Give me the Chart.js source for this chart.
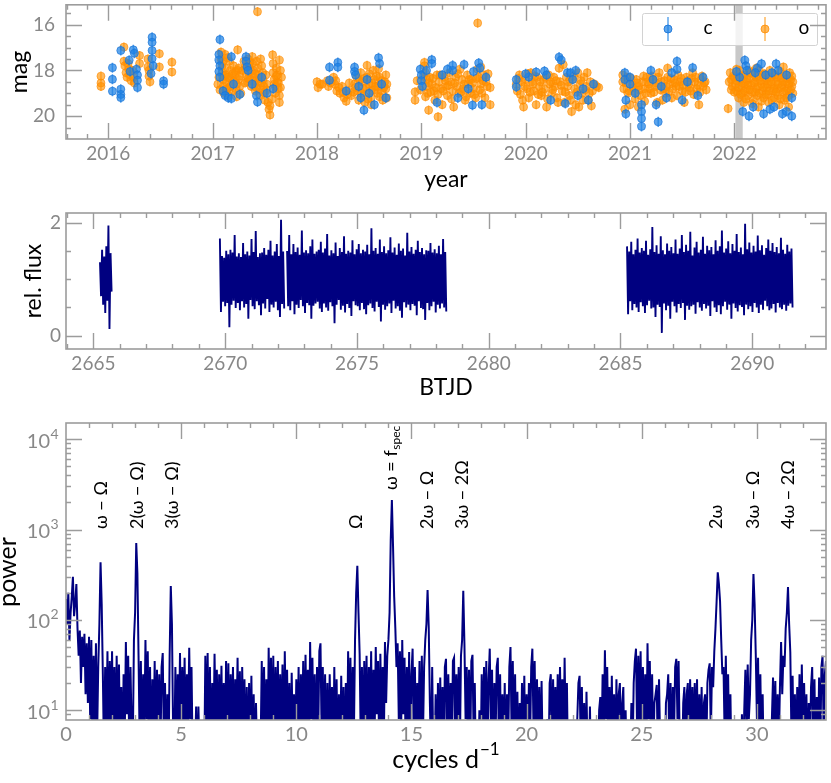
<!DOCTYPE html>
<html>
<head>
<meta charset="utf-8">
<script src="https://cdn.jsdelivr.net/npm/chart.js@4.4.0/dist/chart.umd.min.js"></script>
<style>
  html, body { margin: 0; padding: 0; background: #fff; }
  #wrap { position: relative; width: 831px; height: 783px; }
  canvas { position: absolute; left: 0; }
</style>
</head>
<body>
<div id="wrap">
  <canvas id="lcurve" width="831" height="200" style="top:0"></canvas>
  <canvas id="tess" width="831" height="200" style="top:200px"></canvas>
  <canvas id="pgram" width="831" height="383" style="top:400px"></canvas>
</div>
<script>
// ---------- panel 1: ground based light curve (year, mag) ----------
const cPoints = [
  [2016.04,17.88],[2016.04,18.39],[2016.04,18.91],[2016.12,17.13],[2016.12,18.82],[2016.12,19.05],[2016.12,19.19],
  [2016.2,17.56],[2016.21,18.05],[2016.24,17.1],[2016.25,17.25],[2016.27,17.95],[2016.28,18.2],[2016.28,18.43],
  [2016.28,18.75],[2016.42,16.55],[2016.42,16.77],[2016.42,17.13],[2016.42,17.49],[2016.43,17.8],[2016.41,18.14],
  [2016.53,18.46],[2016.53,18.6],
  [2017.07,16.65],[2017.06,17.3],[2017.06,17.55],[2017.07,17.8],[2017.06,18.05],[2017.07,18.3],[2017.1,18.9],
  [2017.12,19.1],[2017.15,19.2],[2017.18,17.4],[2017.18,19.23],[2017.2,18.6],[2017.26,19.05],[2017.32,17.4],
  [2017.32,17.6],[2017.33,17.85],[2017.34,18.0],[2017.38,18.6],[2017.42,19.1],[2017.43,19.38],[2017.47,18.3],
  [2017.52,19.0],[2017.58,18.8],
  [2018.12,17.86],[2018.12,18.43],[2018.2,17.65],[2018.2,17.86],[2018.28,18.9],[2018.36,17.86],[2018.36,18.05],
  [2018.37,18.2],[2018.4,18.7],[2018.42,19.2],[2018.45,19.74],[2018.48,18.4],[2018.5,19.0],[2018.55,19.5],
  [2018.59,17.45],[2018.6,17.7],[2018.62,18.6],[2018.66,19.2],
  [2018.99,17.95],[2019.0,18.2],[2019.0,18.45],[2019.01,18.7],[2019.1,17.53],[2019.1,17.7],[2019.2,18.2],
  [2019.3,17.78],[2019.3,18.0],[2019.35,19.2],[2019.41,17.74],[2019.45,18.8],[2019.49,19.52],[2019.55,17.68],
  [2019.56,17.9],[2019.58,19.5],[2019.62,18.3],[2019.05,18.0],[2019.25,17.95],[2019.5,18.05],[2019.15,19.4],
  [2019.91,18.72],[2019.91,18.4],[2020.03,18.29],[2020.1,18.07],[2020.18,18.03],[2020.24,19.3],[2020.32,17.42],
  [2020.34,17.55],[2020.4,18.1],[2020.43,18.1],[2020.45,18.4],[2020.5,19.1],[2020.55,18.8],[2020.6,19.3],[2020.65,18.6],
  [2020.0,18.15],[2020.2,18.2],[2020.48,18.0],[2020.38,19.45],
  [2020.95,18.1],[2020.95,18.4],[2020.96,19.3],[2020.96,19.9],[2021.0,18.3],[2021.0,18.6],[2021.05,19.0],
  [2021.11,19.5],[2021.11,19.8],[2021.11,20.1],[2021.11,20.45],[2021.2,18.0],[2021.22,18.4],[2021.27,20.25],
  [2021.3,18.7],[2021.35,19.2],[2021.45,17.6],[2021.45,17.95],[2021.5,19.3],[2021.55,18.5],[2021.6,17.88],[2021.65,19.1],
  [2021.4,18.1],[2021.7,18.3],[2021.25,19.5],
  [2022.05,18.3],[2022.08,19.8],[2022.1,17.56],[2022.11,17.8],[2022.12,18.0],[2022.14,20.0],[2022.18,19.6],
  [2022.22,17.9],[2022.26,17.71],[2022.28,19.9],[2022.3,18.2],[2022.34,19.7],[2022.4,17.71],[2022.42,18.0],
  [2022.46,19.9],[2022.5,19.8],[2022.55,20.0],[2022.55,19.2],[2022.02,18.05],[2022.2,18.1],[2022.36,18.1],
  [2022.5,18.2],[2022.38,19.6]
];
const oPoints = [
  [2015.93,18.25],[2015.93,18.55],[2015.93,18.7],[2016.15,16.98],[2016.15,17.6],[2016.16,17.8],[2016.17,18.1],
  [2016.18,18.3],[2016.19,17.7],[2016.2,17.95],[2016.21,18.2],[2016.22,18.45],[2016.23,18.0],[2016.24,18.3],
  [2016.25,18.55],[2016.3,17.35],[2016.3,17.7],[2016.38,17.5],[2016.38,17.85],[2016.39,18.0],[2016.39,18.25],
  [2016.4,18.5],[2016.49,17.27],[2016.49,17.85],[2016.61,17.64],[2016.61,18.07],
  [2017.05,18.6],[2017.08,17.2],[2017.08,17.5],[2017.09,17.8],[2017.09,18.1],[2017.1,18.4],[2017.1,18.7],
  [2017.11,19.0],[2017.12,17.3],[2017.12,17.9],[2017.13,18.2],[2017.13,18.5],[2017.14,18.8],[2017.15,19.1],
  [2017.16,17.6],[2017.17,18.0],[2017.17,18.35],[2017.18,18.6],[2017.19,18.9],[2017.2,17.8],[2017.21,18.2],
  [2017.21,18.5],[2017.22,18.8],[2017.23,19.15],[2017.24,17.1],[2017.24,18.0],[2017.25,18.4],[2017.26,18.7],
  [2017.27,19.0],
  [2017.3,17.6],[2017.31,17.9],[2017.32,18.2],[2017.33,18.5],[2017.34,17.5],[2017.35,17.8],[2017.35,18.1],
  [2017.36,18.4],[2017.37,18.7],[2017.38,17.4],[2017.38,17.7],[2017.39,18.0],[2017.4,18.3],[2017.4,18.6],
  [2017.41,18.9],[2017.42,17.6],[2017.43,15.43],[2017.43,17.9],[2017.44,18.2],[2017.44,18.5],[2017.45,18.8],
  [2017.46,19.1],[2017.46,17.5],[2017.47,17.8],[2017.48,18.1],[2017.48,18.4],[2017.49,18.7],[2017.5,19.0],
  [2017.5,19.3],[2017.51,18.2],[2017.52,18.6],[2017.53,19.4],[2017.54,19.7],[2017.55,19.95],
  [2017.575,17.32],[2017.58,17.7],[2017.58,18.1],[2017.59,18.4],[2017.6,18.7],[2017.6,19.0],[2017.61,17.9],
  [2017.62,18.2],[2017.62,18.5],[2017.63,18.8],[2017.64,19.1],[2017.64,19.4],[2017.65,18.0],[2017.66,18.3],
  [2017.06,18.3],[2017.07,18.85],[2017.1,17.6],[2017.11,18.25],[2017.13,18.85],[2017.14,17.45],[2017.15,18.3],
  [2017.17,18.7],[2017.19,18.15],[2017.2,18.45],[2017.22,18.05],[2017.23,18.6],[2017.25,17.9],[2017.26,18.25],
  [2017.29,18.0],[2017.31,18.55],[2017.33,17.75],[2017.34,18.35],[2017.36,17.65],[2017.37,18.05],[2017.39,18.45],
  [2017.41,18.15],[2017.42,18.75],[2017.45,18.35],[2017.47,18.55],[2017.49,18.95],[2017.52,18.85],[2017.55,19.55],
  [2017.57,19.25],[2017.59,18.6],[2017.61,18.25],[2017.63,18.55],[2017.65,18.75],[2017.64,17.55],
  [2018.0,18.5],[2018.01,18.75],[2018.05,18.6],[2018.1,18.45],[2018.11,18.7],[2018.16,18.3],[2018.17,18.6],
  [2018.19,18.9],[2018.22,19.0],[2018.24,18.7],[2018.26,19.2],[2018.28,19.35],[2018.3,18.9],[2018.33,19.1],
  [2018.36,18.6],[2018.38,18.3],[2018.39,18.9],[2018.4,19.3],[2018.42,18.1],[2018.43,18.5],[2018.44,18.8],
  [2018.45,19.1],[2018.46,19.4],[2018.48,17.78],[2018.48,18.3],[2018.5,18.6],[2018.51,18.9],[2018.52,19.2],
  [2018.54,18.0],[2018.55,18.4],[2018.56,18.7],[2018.58,19.0],[2018.59,17.93],[2018.6,18.3],[2018.61,18.6],
  [2018.62,18.9],[2018.63,19.3],[2018.65,18.5],[2018.66,18.8],[2018.67,19.2],
  [2018.03,18.6],[2018.13,18.55],[2018.18,18.45],[2018.21,18.75],[2018.25,18.95],[2018.29,19.05],[2018.31,18.55],
  [2018.35,18.95],[2018.37,18.75],[2018.41,18.45],[2018.43,19.0],[2018.45,18.35],[2018.47,18.75],[2018.49,19.25],
  [2018.5,18.15],[2018.53,18.55],[2018.55,18.85],[2018.57,18.25],[2018.58,18.7],[2018.6,19.15],[2018.62,18.45],
  [2018.64,18.75],[2018.66,18.2],[2018.67,18.6],[2018.52,19.5],
  [2018.94,18.94],[2018.94,19.3],[2019.03,17.8],[2019.04,18.1],[2019.05,18.4],[2019.05,18.7],[2019.06,19.0],
  [2019.07,19.74],[2019.08,18.3],[2019.1,18.6],[2019.12,18.9],[2019.13,19.3],[2019.15,18.2],[2019.16,20.03],
  [2019.17,18.5],[2019.19,18.8],[2019.2,19.5],[2019.22,18.3],[2019.24,18.7],[2019.25,19.1],[2019.27,18.1],
  [2019.28,18.5],[2019.3,18.9],[2019.31,19.6],[2019.33,18.3],[2019.34,18.7],[2019.36,19.0],[2019.37,17.95],
  [2019.39,18.4],[2019.4,18.8],[2019.42,19.3],[2019.44,18.2],[2019.45,18.6],[2019.47,19.0],[2019.48,18.4],
  [2019.5,18.8],[2019.52,19.2],[2019.54,15.93],[2019.54,17.95],[2019.55,18.3],[2019.57,18.6],[2019.58,19.0],
  [2019.6,18.2],[2019.62,18.5],[2019.66,18.75],[2019.66,19.5],
  [2018.96,18.45],[2018.99,18.85],[2019.02,18.25],[2019.04,19.15],[2019.07,18.55],[2019.09,18.95],[2019.11,18.35],
  [2019.14,18.75],[2019.16,19.05],[2019.18,18.2],[2019.21,18.9],[2019.23,18.45],[2019.26,18.65],[2019.29,19.25],
  [2019.32,18.55],[2019.35,18.15],[2019.38,18.95],[2019.41,18.6],[2019.43,19.15],[2019.46,18.4],[2019.49,18.55],
  [2019.51,19.05],[2019.53,18.35],[2019.56,18.85],[2019.59,18.45],[2019.61,19.2],[2019.63,18.7],[2019.64,18.15],
  [2019.57,17.85],[2019.03,17.65],
  [2019.91,18.6],[2019.92,18.9],[2019.94,18.2],[2019.96,18.5],[2019.97,19.3],[2019.98,19.6],[2020.0,18.4],
  [2020.01,18.8],[2020.03,19.2],[2020.05,18.1],[2020.06,18.5],[2020.08,18.9],[2020.1,19.5],[2020.11,18.3],
  [2020.13,18.7],[2020.15,19.1],[2020.17,18.4],[2020.18,18.8],[2020.2,19.6],[2020.22,18.2],[2020.23,18.6],
  [2020.25,19.0],[2020.27,18.3],[2020.28,18.7],[2020.3,19.2],[2020.32,17.9],[2020.33,18.5],[2020.35,18.9],
  [2020.36,17.75],[2020.37,19.4],[2020.39,18.3],[2020.4,18.7],[2020.42,19.1],[2020.44,19.8],[2020.45,18.4],
  [2020.47,18.8],[2020.48,19.5],[2020.5,18.1],[2020.52,18.6],[2020.54,19.0],[2020.56,18.3],[2020.58,18.7],
  [2020.6,19.3],[2020.62,18.5],[2020.64,18.9],[2020.68,18.7],
  [2019.93,18.35],[2019.95,19.05],[2019.99,18.7],[2020.02,18.15],[2020.04,18.95],[2020.07,18.6],[2020.09,18.25],
  [2020.12,19.05],[2020.14,18.5],[2020.16,18.95],[2020.19,18.3],[2020.21,19.25],[2020.24,18.5],[2020.26,18.85],
  [2020.29,18.45],[2020.31,19.4],[2020.34,18.65],[2020.38,18.95],[2020.41,18.5],[2020.43,19.3],[2020.46,18.25],
  [2020.49,18.95],[2020.51,19.6],[2020.53,18.45],[2020.55,19.3],[2020.57,18.85],[2020.59,18.1],[2020.61,19.0],
  [2020.63,19.55],[2020.66,18.6],[2020.7,18.75],
  [2020.93,18.5],[2020.94,18.8],[2020.95,19.7],[2020.97,18.3],[2020.98,19.0],[2021.0,19.5],[2021.02,18.6],
  [2021.04,18.9],[2021.06,18.4],[2021.08,18.7],[2021.1,19.1],[2021.12,18.5],[2021.14,18.8],[2021.16,18.3],
  [2021.18,18.6],[2021.2,19.0],[2021.22,18.4],[2021.24,18.7],[2021.26,19.4],[2021.28,18.1],[2021.3,18.5],
  [2021.32,18.8],[2021.34,19.0],[2021.36,18.3],[2021.38,18.6],[2021.4,19.2],[2021.42,18.4],[2021.44,18.7],
  [2021.46,18.2],[2021.48,18.5],[2021.5,18.9],[2021.52,19.4],[2021.54,18.3],[2021.56,18.6],[2021.58,18.9],
  [2021.6,18.1],[2021.62,18.5],[2021.64,18.8],[2021.66,19.5],[2021.68,18.4],[2021.7,18.7],[2021.72,18.5],
  [2020.93,18.2],[2020.96,18.55],[2020.99,18.9],[2021.01,18.35],[2021.03,18.75],[2021.05,19.25],[2021.07,18.55],
  [2021.09,18.85],[2021.13,18.25],[2021.15,19.0],[2021.17,18.5],[2021.19,18.8],[2021.21,18.25],[2021.23,18.95],
  [2021.25,18.55],[2021.27,18.3],[2021.29,18.85],[2021.31,19.3],[2021.33,18.45],[2021.35,18.7],[2021.37,18.95],
  [2021.39,18.35],[2021.41,18.8],[2021.43,18.55],[2021.45,19.1],[2021.47,18.7],[2021.49,18.35],[2021.51,18.65],
  [2021.53,18.95],[2021.55,18.45],[2021.57,18.75],[2021.59,18.35],[2021.61,19.05],[2021.63,18.3],[2021.65,18.65],
  [2021.67,18.95],[2021.69,18.25],[2021.71,18.55],[2021.73,18.85],[2021.08,19.6],[2021.14,19.35],[2021.36,17.9],
  [2021.94,19.67],[2021.96,18.1],[2021.97,18.4],[2021.98,18.7],[2022.0,18.3],[2022.01,18.6],[2022.02,18.9],
  [2022.04,19.2],[2022.05,18.0],[2022.06,18.4],[2022.07,18.7],[2022.08,19.0],[2022.09,19.4],[2022.1,18.2],
  [2022.11,18.5],[2022.12,18.8],[2022.13,19.1],[2022.14,18.0],[2022.15,18.35],[2022.16,18.65],[2022.17,18.95],
  [2022.18,19.3],[2022.19,18.2],[2022.2,18.5],[2022.21,18.8],[2022.22,19.1],[2022.23,19.6],[2022.24,18.0],
  [2022.25,18.3],[2022.26,18.6],[2022.27,18.9],[2022.28,19.2],[2022.29,18.15],[2022.3,18.45],[2022.31,18.75],
  [2022.32,19.05],[2022.33,19.4],[2022.34,18.0],[2022.35,18.3],[2022.36,18.6],[2022.37,18.9],[2022.38,19.2],
  [2022.39,18.2],[2022.4,18.5],[2022.41,18.8],[2022.42,19.1],[2022.43,19.5],[2022.44,18.05],[2022.45,18.35],
  [2022.46,18.65],[2022.47,18.95],[2022.48,19.3],[2022.49,18.2],[2022.5,18.5],[2022.51,18.8],[2022.52,19.1],
  [2022.53,18.1],[2022.54,18.4],[2022.55,18.7],[2022.56,19.0],
  [2021.95,18.5],[2021.97,18.85],[2021.99,18.25],[2022.0,18.95],[2022.02,18.45],[2022.03,18.15],[2022.04,18.75],
  [2022.06,19.05],[2022.07,18.25],[2022.08,18.55],[2022.1,18.9],[2022.11,19.25],[2022.12,18.4],[2022.13,18.65],
  [2022.15,18.85],[2022.16,18.1],[2022.17,19.45],[2022.19,18.55],[2022.2,18.95],[2022.21,18.3],[2022.23,18.7],
  [2022.24,19.0],[2022.25,18.45],[2022.26,19.35],[2022.27,18.2],[2022.28,18.75],[2022.3,19.05],[2022.31,18.35],
  [2022.32,18.6],[2022.33,18.9],[2022.35,18.5],[2022.36,19.3],[2022.37,18.15],[2022.38,18.8],[2022.4,18.95],
  [2022.41,18.3],[2022.42,18.6],[2022.44,19.25],[2022.45,18.75],[2022.46,18.25],[2022.47,18.5],[2022.49,18.9],
  [2022.5,19.2],[2022.51,18.35],[2022.52,18.6],[2022.54,18.85],[2022.55,18.25],[2022.56,18.5],[2022.02,17.95],
  [2022.21,17.9],[2022.47,17.85],[2022.52,19.6]
];
const cErr = 0.22;
const oErr = 0.2;
const bandYears = [2022.01, 2022.08];
const yearTicks = [2016, 2017, 2018, 2019, 2020, 2021, 2022];
const magTicks = [16, 18, 20];

// ---------- panel 2: TESS light curve (BTJD, relative flux) ----------
const segStart = [2665.25, 2669.8, 2672.35, 2685.25];
const cadence = 0.04;
const flux1 = [1.30,0.70,1.52,0.55,1.40,0.40,1.58,0.62,1.95,0.12,1.46,0.78];
const flux2 = [
  1.72,0.42,1.41,0.60,1.38,0.52,1.50,0.58,1.44,0.15,
  1.52,0.55,1.47,0.62,1.78,0.49,1.40,0.58,1.46,0.45,
  1.39,0.61,1.64,0.50,1.44,0.56,1.49,0.30,1.42,0.63,
  1.71,0.52,1.48,0.47,1.85,0.61,1.39,0.54,1.46,0.36,
  1.47,0.57,1.55,0.48,1.43,0.65,1.52,0.42,1.68,0.55,
  1.42,0.50,1.49,0.60,1.62,0.45,1.41,0.33,2.05,0.56,
  1.49,0.48
];
const flux3 = [
  1.50,0.52,1.78,0.45,1.44,0.61,1.62,0.38,1.48,0.55,
  1.56,0.49,1.43,0.63,1.86,0.52,1.47,0.40,1.51,0.58,
  1.46,0.54,1.58,0.30,1.70,0.53,1.45,0.57,1.49,0.60,
  1.52,0.48,1.66,0.42,1.47,0.57,1.54,0.50,1.80,0.44,
  1.42,0.59,1.51,0.52,1.46,0.22,1.65,0.55,1.41,0.63,
  1.55,0.46,1.48,0.53,1.76,0.41,1.45,0.56,1.50,0.49,
  1.47,0.35,1.69,0.61,1.44,0.54,1.53,0.52,1.62,0.45,
  1.46,0.58,1.52,0.47,1.49,0.38,1.61,0.54,1.44,0.57,
  1.90,0.49,1.50,0.43,1.55,0.60,1.45,0.51,1.70,0.25,
  1.48,0.55,1.58,0.46,1.46,0.52,1.51,0.57,1.74,0.40,
  1.47,0.62,1.56,0.48,1.43,0.52,1.63,0.44,1.50,0.32,
  1.54,0.59,1.42,0.50,1.82,0.55,1.49,0.45,1.57,0.56,
  1.45,0.53,1.52,0.36,1.68,0.61,1.48,0.49,1.55,0.47,
  1.44,0.28,1.51,0.58,1.50,0.45,1.64,0.52,1.47,0.60,
  1.53,0.41,1.46,0.55,1.59,0.48,1.44,0.57,1.71,0.50,
  1.48,0.43
];
const flux4 = [
  1.58,0.38,1.49,0.61,1.66,0.45,1.44,0.56,1.52,0.50,
  1.72,0.42,1.47,0.59,1.55,0.52,1.50,0.40,1.68,0.54,
  1.43,0.62,1.53,0.48,1.92,0.50,1.48,0.33,1.60,0.55,
  1.45,0.51,1.76,0.05,1.51,0.57,1.44,0.45,1.63,0.53,
  1.50,0.30,1.57,0.60,1.46,0.52,1.70,0.41,1.45,0.56,
  1.54,0.49,1.78,0.58,1.48,0.28,1.61,0.53,1.50,0.46,
  1.84,0.52,1.42,0.55,1.56,0.39,1.66,0.59,1.47,0.50,
  1.52,0.44,1.75,0.56,1.45,0.48,1.59,0.53,1.51,0.35,
  1.57,0.61,1.44,0.50,1.69,0.42,1.50,0.54,1.58,0.38,
  1.86,0.52,1.47,0.60,1.54,0.46,1.67,0.55,1.46,0.30,
  1.62,0.57,1.50,0.49,1.80,0.43,1.48,0.54,1.56,0.51,
  1.44,0.36,1.98,0.55,1.53,0.47,1.65,0.52,1.47,0.42,
  1.59,0.58,1.49,0.50,1.77,0.40,1.51,0.55,1.60,0.46,
  1.43,0.62,1.55,0.52,1.70,0.45,1.50,0.48,1.64,0.56,
  1.48,0.41,1.57,0.58,1.46,0.50,1.73,0.47,1.52,0.55,
  1.45,0.44,1.61,0.53,1.49,0.57,1.54,0.50
];
const btjdTicks = [2665, 2670, 2675, 2680, 2685, 2690];
const fluxTicks = [0, 2];

// ---------- panel 3: periodogram (cycles/d, power), one row per cycle/d ----------
const freqStep = 0.05;
const power = [
  170,90,200,60,120,180,300,110,150,250,80,40,76,20,65,30,70,15,55,12,
  65,8,60,4,40,6,55,5,30,90,434,150,25,3,30,5,45,4,35,6,
  45,4,30,3,40,5,32,3,18,2,25,5,57,9,40,3,30,6,4,60,
  120,710,330,40,4,35,3,25,5,60,8,45,3,30,2,22,4,35,3,28,
  5,25,3,30,43,4,20,2,15,2,40,237,90,6,3,30,4,25,5,43,
  4,30,6,38,3,25,5,49,8,30,3,2,3,11,2,11,3,2,2,2,
  2,40,5,43,3,30,2,20,4,42,6,28,3,25,5,31,3,20,2,35,
  4,33,3,25,5,30,3,22,6,38,4,27,2,30,5,22,2,18,2,20,
  3,24,2,15,2,12,3,2,3,4,35,5,30,3,22,2,49,6,38,4,
  40,3,30,5,35,3,25,4,32,2,45,6,28,3,20,2,26,4,15,3,
  22,4,30,2,25,5,35,3,41,6,28,3,57,8,38,4,25,2,30,5,
  45,55,5,30,3,25,2,20,2,25,4,18,2,30,3,22,2,15,2,24,
  3,18,2,20,3,45,6,38,4,30,5,60,200,398,120,42,4,30,3,35,
  5,40,3,30,6,45,3,28,5,50,9,35,3,42,6,30,4,57,12,40,
  60,120,767,2130,660,180,81,30,55,8,45,5,60,9,38,3,30,5,44,3,
  25,48,4,30,3,20,5,35,2,40,5,30,60,90,214,84,12,3,30,3,
  2,15,2,20,3,23,4,18,2,30,37,3,25,5,20,3,35,38,4,25,
  5,30,3,40,60,210,55,8,30,4,28,3,35,41,5,20,2,3,2,10,
  2,25,3,30,5,35,3,22,48,6,28,2,20,4,30,38,3,25,2,15,
  3,20,2,15,4,30,50,5,35,3,25,2,16,2,12,3,20,4,24,2,
  15,3,20,4,30,48,6,35,3,22,4,18,2,21,3,2,3,2,8,2,
  20,25,3,22,5,18,3,25,4,30,6,22,3,38,5,20,2,2,2,3,
  2,2,3,2,8,20,24,4,18,2,12,2,16,3,2,11,2,2,2,2,
  2,2,2,10,14,3,25,5,46,8,30,4,18,3,24,3,15,2,22,4,
  15,20,3,12,18,2,10,2,3,2,3,12,3,20,35,48,5,40,6,45,
  4,30,5,25,3,55,8,35,4,25,3,12,15,19,3,22,4,3,2,4,
  2,12,15,25,3,20,3,18,5,30,37,8,35,4,2,2,12,18,3,15,
  20,3,22,5,18,3,20,4,22,2,15,3,18,2,12,15,3,20,28,33,
  5,30,18,45,80,160,337,250,160,60,25,30,5,40,6,25,3,15,2,3,
  2,2,3,2,2,2,3,9,2,10,28,5,32,8,15,60,100,322,150,42,
  8,38,4,25,3,15,2,2,2,2,2,3,2,8,23,5,21,3,15,4,
  18,57,15,40,30,80,120,231,90,44,5,24,3,15,2,18,4,25,3,32,
  4,20,3,15,2,12,3,18,30,4,22,2,14,3,23,3,30,40,5,25,
  35
];
const freqTicks = [0, 5, 10, 15, 20, 25, 30];
const powerTicks = [10, 100, 1000, 10000];
const peakFreqs = [1.52, 3.07, 4.6, 12.6, 14.1, 15.68, 17.2, 28.25, 29.83, 31.35];
const peakLabels = ['ω − Ω', '2(ω − Ω)', '3(ω − Ω)', 'Ω', 'ω = f', '2ω − Ω', '3ω − 2Ω', '2ω', '3ω − Ω', '4ω − 2Ω'];
const peakSubs = ['', '', '', '', 'spec', '', '', '', '', ''];

// ---------- styling ----------
const FONT = 'Lato, "DejaVu Sans", sans-serif';
const AXIS_GRAY = '#9c9c9c';
const TEXT_GRAY = '#888888';
const NAVY = '#000080';
const BLUE = 'rgba(30,130,228,0.72)';
const BLUE_EDGE = 'rgba(25,115,215,0.85)';
const ORANGE = 'rgba(255,145,0,0.64)';
const ORANGE_EDGE = 'rgba(255,140,0,0.75)';

function steps(from, to, step) {
  const out = [];
  for (let v = from; v <= to + 1e-9; v += step) out.push(Math.round(v * 1000) / 1000);
  return out;
}

function logMinors(decades) {
  const out = [];
  decades.forEach(d => { for (let m = 2; m <= 9; m++) out.push(m * d); });
  return out;
}

// fixed axis boxes so the plot areas line up with the reference
function fixWidth(w) {
  return s => { s.width = w; s.paddingTop = 0; s.paddingBottom = 0; };
}
function fixHeight(h) {
  return s => { s.height = h; s.paddingLeft = 0; s.paddingRight = 0; };
}
function setTicks(vals) {
  return s => { s.ticks = vals.map(v => ({ value: v })); };
}

// frame + inward ticks on all four sides + axis titles
function axisDecor(spec) {
  return {
    id: 'axisDecor',
    afterDraw(chart) {
      const { ctx, chartArea: a } = chart;
      const sx = chart.scales.x, sy = chart.scales.y;
      ctx.save();
      ctx.strokeStyle = AXIS_GRAY;
      ctx.lineWidth = 1.4;
      ctx.beginPath();
      const xt = (vals, len) => vals.forEach(v => {
        const p = Math.round(sx.getPixelForValue(v)) + 0.5;
        if (p <= a.left + 1 || p >= a.right - 1) return;
        ctx.moveTo(p, a.bottom); ctx.lineTo(p, a.bottom - len);
        ctx.moveTo(p, a.top); ctx.lineTo(p, a.top + len);
      });
      const yt = (vals, len) => vals.forEach(v => {
        const p = Math.round(sy.getPixelForValue(v)) + 0.5;
        if (p <= a.top + 1 || p >= a.bottom - 1) return;
        ctx.moveTo(a.left, p); ctx.lineTo(a.left + len, p);
        ctx.moveTo(a.right, p); ctx.lineTo(a.right - len, p);
      });
      xt(spec.xMinor, 5); xt(spec.xMajor, 16);
      yt(spec.yMinor, 5); yt(spec.yMajor, 16);
      ctx.stroke();
      ctx.lineWidth = 1.6;
      ctx.strokeRect(a.left, a.top, a.right - a.left, a.bottom - a.top);

      ctx.fillStyle = '#000';
      ctx.textBaseline = 'middle';
      spec.titles.forEach(t => {
        ctx.save();
        ctx.translate(t.x, t.y);
        if (t.rot) ctx.rotate(-Math.PI / 2);
        ctx.font = `${t.size}px ${FONT}`;
        if (t.sup) {
          const w1 = ctx.measureText(t.text).width;
          ctx.font = `${Math.round(t.size * 0.68)}px ${FONT}`;
          const w2 = ctx.measureText(t.sup).width;
          const x0 = -(w1 + w2 + 1) / 2;
          ctx.textAlign = 'left';
          ctx.fillText(t.sup, x0 + w1 + 1, -t.size * 0.42);
          ctx.font = `${t.size}px ${FONT}`;
          ctx.fillText(t.text, x0, 0);
        } else {
          ctx.textAlign = 'center';
          ctx.fillText(t.text, 0, 0);
        }
        ctx.restore();
      });
      ctx.restore();
    }
  };
}

const tickFont = size => ({ family: FONT, size: size });
const noGrid = { display: false, drawTicks: false };

// ---------- panel 1 ----------
const errorBars = {
  id: 'errorBars',
  beforeDatasetsDraw(chart) {
    const { ctx, chartArea: a } = chart;
    const sx = chart.scales.x;
    ctx.save();
    ctx.fillStyle = 'rgba(190,190,190,0.85)';
    const b0 = sx.getPixelForValue(bandYears[0]), b1 = sx.getPixelForValue(bandYears[1]);
    ctx.fillRect(b0, a.top, b1 - b0, a.bottom - a.top);
    ctx.restore();
  },
  beforeDatasetDraw(chart, args) {
    const ds = chart.data.datasets[args.index];
    const { ctx } = chart;
    const sx = chart.scales.x, sy = chart.scales.y;
    ctx.save();
    ctx.strokeStyle = ds.errColor;
    ctx.lineWidth = 1.5;
    ctx.beginPath();
    ds.data.forEach(p => {
      const px = sx.getPixelForValue(p.x);
      ctx.moveTo(px, sy.getPixelForValue(p.y - ds.err));
      ctx.lineTo(px, sy.getPixelForValue(p.y + ds.err));
    });
    ctx.stroke();
    ctx.restore();
  },
  afterDraw(chart) {
    const { ctx } = chart;
    ctx.save();
    ctx.fillStyle = 'rgba(255,255,255,0.8)';
    ctx.strokeStyle = '#d2d2d2';
    ctx.lineWidth = 1;
    ctx.beginPath();
    ctx.roundRect(642.5, 13.5, 175, 32, 2);
    ctx.fill();
    ctx.stroke();
    const entry = (x, fill, edge) => {
      ctx.strokeStyle = fill;
      ctx.lineWidth = 1.5;
      ctx.beginPath(); ctx.moveTo(x, 17); ctx.lineTo(x, 41); ctx.stroke();
      ctx.fillStyle = fill; ctx.strokeStyle = edge; ctx.lineWidth = 1;
      ctx.beginPath(); ctx.arc(x, 29, 4, 0, Math.PI * 2); ctx.fill(); ctx.stroke();
    };
    entry(668, BLUE, BLUE_EDGE);
    entry(765, ORANGE, ORANGE_EDGE);
    ctx.fillStyle = '#000';
    ctx.font = `19px ${FONT}`;
    ctx.textAlign = 'center';
    ctx.textBaseline = 'middle';
    ctx.fillText('c', 708, 28);
    ctx.fillText('o', 804, 28);
    ctx.restore();
  }
};

new Chart(document.getElementById('lcurve'), {
  type: 'scatter',
  data: {
    datasets: [
      { label: 'c', data: cPoints.map(([x, y]) => ({ x, y })), err: cErr, errColor: BLUE,
        pointRadius: 4, pointBackgroundColor: BLUE, pointBorderColor: BLUE_EDGE, pointBorderWidth: 0.8 },
      { label: 'o', data: oPoints.map(([x, y]) => ({ x, y })), err: oErr, errColor: ORANGE,
        pointRadius: 4, pointBackgroundColor: ORANGE, pointBorderColor: ORANGE_EDGE, pointBorderWidth: 0.8 }
    ]
  },
  options: {
    responsive: false, animation: false, devicePixelRatio: 1,
    layout: { padding: { left: 0, right: 5, top: 4, bottom: 0 } },
    plugins: { legend: { display: false }, tooltip: { enabled: false } },
    scales: {
      x: {
        type: 'linear', min: 2015.595, max: 2022.878,
        grid: noGrid, border: { display: false },
        afterBuildTicks: setTicks(yearTicks), afterFit: fixHeight(61),
        ticks: { color: TEXT_GRAY, font: tickFont(19), padding: 3, maxRotation: 0, autoSkip: false, callback: v => String(v) }
      },
      y: {
        type: 'linear', reverse: true, min: 15.13, max: 21.0,
        grid: noGrid, border: { display: false },
        afterBuildTicks: setTicks(magTicks), afterFit: fixWidth(66),
        ticks: { color: TEXT_GRAY, font: tickFont(19), padding: 11, autoSkip: false, callback: v => String(v) }
      }
    }
  },
  plugins: [errorBars, axisDecor({
    xMajor: yearTicks, xMinor: steps(2015.6, 2022.8, 0.2),
    yMajor: magTicks, yMinor: steps(15.5, 21, 0.5),
    titles: [
      { text: 'year', x: 446, y: 179.5, size: 23 },
      { text: 'mag', x: 20, y: 72, size: 23, rot: true }
    ]
  })]
});

// ---------- panel 2 ----------
new Chart(document.getElementById('tess'), {
  type: 'line',
  data: {
    datasets: [flux1, flux2, flux3, flux4].map((seg, k) => ({
      data: seg.map((f, i) => ({ x: segStart[k] + i * cadence, y: f })),
      borderColor: NAVY, borderWidth: 1.9, pointRadius: 0, tension: 0, fill: false
    }))
  },
  options: {
    responsive: false, animation: false, devicePixelRatio: 1,
    layout: { padding: { left: 0, right: 5, top: 13, bottom: 0 } },
    plugins: { legend: { display: false }, tooltip: { enabled: false } },
    scales: {
      x: {
        type: 'linear', min: 2663.96, max: 2692.8,
        grid: noGrid, border: { display: false },
        afterBuildTicks: setTicks(btjdTicks), afterFit: fixHeight(51),
        ticks: { color: TEXT_GRAY, font: tickFont(19), padding: 3, maxRotation: 0, autoSkip: false, callback: v => String(v) }
      },
      y: {
        type: 'linear', min: -0.235, max: 2.17,
        grid: noGrid, border: { display: false },
        afterBuildTicks: setTicks(fluxTicks), afterFit: fixWidth(66),
        ticks: { color: TEXT_GRAY, font: tickFont(19), padding: 5, autoSkip: false, callback: v => String(v) }
      }
    }
  },
  plugins: [axisDecor({
    xMajor: btjdTicks, xMinor: steps(2664, 2692, 1),
    yMajor: fluxTicks, yMinor: steps(0, 2, 0.5),
    titles: [
      { text: 'BTJD', x: 446, y: 188, size: 23 },
      { text: 'rel. flux', x: 33.5, y: 81, size: 23, rot: true }
    ]
  })]
});

// ---------- panel 3 ----------
const peakText = {
  id: 'peakText',
  afterDraw(chart) {
    const { ctx } = chart;
    const sx = chart.scales.x, sy = chart.scales.y;
    ctx.save();
    // log tick labels 10^n
    ctx.fillStyle = TEXT_GRAY;
    ctx.textBaseline = 'middle';
    powerTicks.forEach(v => {
      const py = sy.getPixelForValue(v);
      ctx.font = `20px ${FONT}`;
      ctx.textAlign = 'right';
      ctx.fillText('10', 50, py + 2);
      ctx.font = `14px ${FONT}`;
      ctx.textAlign = 'left';
      ctx.fillText(String(Math.round(Math.log10(v))), 50.5, py - 5);
    });
    // peak identifications
    ctx.fillStyle = '#000';
    peakLabels.forEach((lab, i) => {
      ctx.save();
      ctx.translate(sx.getPixelForValue(peakFreqs[i]), peakSubs[i] ? 90 : 129);
      ctx.rotate(-Math.PI / 2);
      ctx.font = `18px ${FONT}`;
      ctx.textAlign = 'left';
      ctx.fillText(lab, 0, 0);
      if (peakSubs[i]) {
        const w = ctx.measureText(lab).width;
        ctx.font = `12px ${FONT}`;
        ctx.fillText(peakSubs[i], w + 0.5, 5);
      }
      ctx.restore();
    });
    ctx.restore();
  }
};

new Chart(document.getElementById('pgram'), {
  type: 'line',
  data: {
    datasets: [{
      data: power.map((p, i) => ({ x: i * freqStep, y: p })),
      borderColor: NAVY, borderWidth: 2, pointRadius: 0, tension: 0, fill: false
    }]
  },
  options: {
    responsive: false, animation: false, devicePixelRatio: 1,
    layout: { padding: { left: 0, right: 5, top: 23, bottom: 0 } },
    plugins: { legend: { display: false }, tooltip: { enabled: false } },
    scales: {
      x: {
        type: 'linear', min: 0, max: 33,
        grid: noGrid, border: { display: false },
        afterBuildTicks: setTicks(freqTicks), afterFit: fixHeight(63),
        ticks: { color: TEXT_GRAY, font: tickFont(20), padding: 3, maxRotation: 0, autoSkip: false, callback: v => String(v) }
      },
      y: {
        type: 'logarithmic', min: 7.78, max: 15150,
        grid: noGrid, border: { display: false },
        afterBuildTicks: setTicks(powerTicks), afterFit: fixWidth(66),
        ticks: { display: false }
      }
    }
  },
  plugins: [peakText, axisDecor({
    xMajor: freqTicks, xMinor: steps(0, 33, 1),
    yMajor: powerTicks, yMinor: logMinors([1, 10, 100, 1000]),
    titles: [
      { text: 'cycles d', sup: '−1', x: 446, y: 360, size: 25 },
      { text: 'power', x: 8, y: 172, size: 25, rot: true }
    ]
  })]
});
</script>
</body>
</html>
